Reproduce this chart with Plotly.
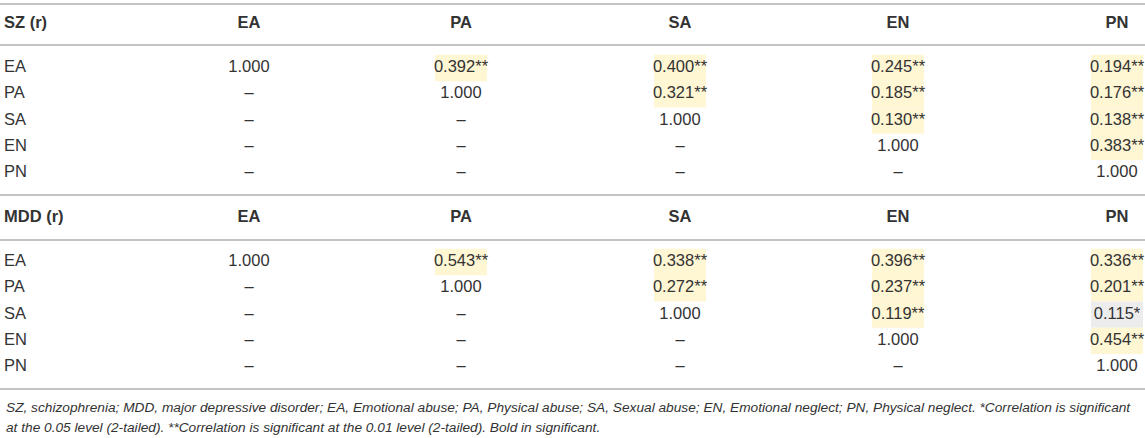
import plotly.graph_objects as go

# correlation matrices (upper triangle), ** p<0.01, * p<0.05
variables = ["EA", "PA", "SA", "EN", "PN"]

sz_rows = [
    ["1.000", "0.392**", "0.400**", "0.245**", "0.194**"],
    ["–", "1.000", "0.321**", "0.185**", "0.176**"],
    ["–", "–", "1.000", "0.130**", "0.138**"],
    ["–", "–", "–", "1.000", "0.383**"],
    ["–", "–", "–", "–", "1.000"],
]

mdd_rows = [
    ["1.000", "0.543**", "0.338**", "0.396**", "0.336**"],
    ["–", "1.000", "0.272**", "0.237**", "0.201**"],
    ["–", "–", "1.000", "0.119**", "0.115*"],
    ["–", "–", "–", "1.000", "0.454**"],
    ["–", "–", "–", "–", "1.000"],
]

sections = [("SZ (r)", sz_rows), ("MDD (r)", mdd_rows)]

footnote = [
    "SZ, schizophrenia; MDD, major depressive disorder; EA, Emotional abuse; PA, Physical abuse; "
    "SA, Sexual abuse; EN, Emotional neglect; PN, Physical neglect. *Correlation is significant",
    "at the 0.05 level (2-tailed). **Correlation is significant at the 0.01 level (2-tailed). Bold in significant.",
]

# layout (pixel space)
W, H = 1145, 438
col_x = [249, 461, 680, 898, 1117]
label_x = 4
header_y = 24
first_row_y = 68
row_step = 26.3
section_step = 194
hl_half_w = 26
text_color = "#333333"
line_color = "#c4c4c4"
font = "Liberation Sans, Arial, sans-serif"
fsize = 16.5

fig = go.Figure()
shapes = []

for s, (title, rows) in enumerate(sections):
    y0 = s * section_step
    hy = header_y + y0
    # header row
    fig.add_trace(go.Scatter(
        x=[label_x], y=[hy], mode="text", text=["<b>" + title + "</b>"],
        textposition="middle right", textfont=dict(size=fsize, color=text_color, family=font),
        hoverinfo="skip", showlegend=False))
    fig.add_trace(go.Scatter(
        x=col_x, y=[hy] * len(variables), mode="text",
        text=["<b>" + v + "</b>" for v in variables],
        textposition="middle center", textfont=dict(size=fsize, color=text_color, family=font),
        hoverinfo="skip", showlegend=False))

    ys = [first_row_y + y0 + i * row_step for i in range(len(rows))]
    fig.add_trace(go.Scatter(
        x=[label_x] * len(variables), y=ys, mode="text", text=variables,
        textposition="middle right", textfont=dict(size=fsize, color=text_color, family=font),
        hoverinfo="skip", showlegend=False))

    for i, row in enumerate(rows):
        for j, cell in enumerate(row):
            if cell.endswith("**"):
                fill = "#fff6d3"
            elif cell.endswith("*"):
                fill = "#ececec"
            else:
                continue
            shapes.append(dict(
                type="rect", xref="x", yref="y", layer="below", line_width=0,
                fillcolor=fill,
                x0=col_x[j] - hl_half_w, x1=col_x[j] + hl_half_w,
                y0=ys[i] - row_step / 2, y1=ys[i] + row_step / 2))
        fig.add_trace(go.Scatter(
            x=col_x, y=[ys[i]] * len(row), mode="text", text=row,
            textposition="middle center", textfont=dict(size=fsize, color=text_color, family=font),
            hoverinfo="skip", showlegend=False))

# horizontal rules
for ly in [4, 45, 195, 240, 389]:
    shapes.append(dict(type="line", xref="paper", yref="y", x0=0, x1=1, y0=ly, y1=ly,
                       line=dict(color=line_color, width=2)))

annotations = []
for k, line in enumerate(footnote):
    annotations.append(dict(
        x=label_x, y=407 + k * 20, xref="x", yref="y", text="<i>" + line + "</i>",
        showarrow=False, xanchor="left", yanchor="middle",
        font=dict(size=13.7, color=text_color, family=font)))

fig.update_layout(
    width=W, height=H,
    margin=dict(l=0, r=0, t=0, b=0),
    paper_bgcolor="white", plot_bgcolor="white",
    xaxis=dict(range=[0, W], visible=False, fixedrange=True),
    yaxis=dict(range=[H, 0], visible=False, fixedrange=True),
    shapes=shapes, annotations=annotations,
)

fig.write_html("out.html", config={"displayModeBar": False},
               post_script="document.body.style.margin='0';document.body.style.overflow='hidden';")
